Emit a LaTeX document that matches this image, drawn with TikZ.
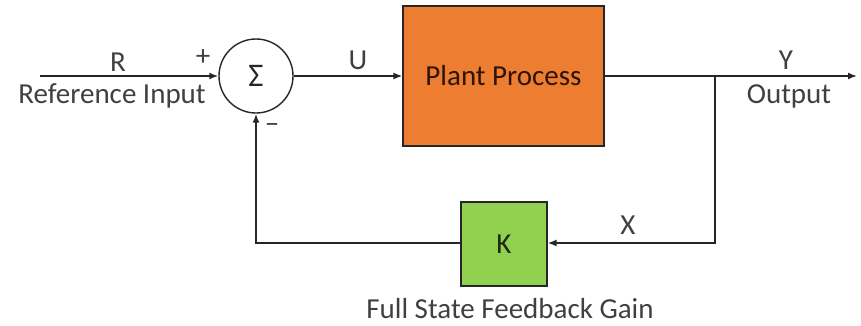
\documentclass[tikz,border=0pt]{standalone}
\usepackage{fontspec}
\setmainfont{Carlito}
\usetikzlibrary{arrows.meta,positioning,calc}
\definecolor{plantorange}{RGB}{237,125,49}
\definecolor{gaingreen}{RGB}{146,208,80}
\definecolor{wiregray}{RGB}{38,38,38}
\definecolor{labgray}{RGB}{64,64,64}
\tikzset{
  sig/.style={-{Latex[length=9pt,width=7pt]}, wiregray, line width=1.6pt},
  wire/.style={wiregray, line width=1.6pt},
  sumnode/.style={circle, draw=wiregray, line width=1.4pt, fill=white,
                  minimum size=74pt, inner sep=0pt, font=\fontsize{33}{38}\selectfont, text=wiregray},
  blkbox/.style={draw=wiregray, line width=1.2pt, inner sep=0pt,
                 font=\fontsize{29}{34}\selectfont},
  lab/.style={font=\fontsize{29}{34}\selectfont, text=labgray, inner sep=0pt},
}
\begin{document}
\begin{tikzpicture}[x=1pt, y=-1pt]
  \useasboundingbox (0,0) rectangle (861,325);
  % blocks
  \node[sumnode] (sum) at (256,76) {Σ};
  \node[blkbox, fill=plantorange, minimum width=201pt, minimum height=140pt,
        text={rgb,255:red,45;green,20;blue,5}] (plant) at (503.5,76) {Plant Process};
  \node[blkbox, fill=gaingreen, minimum width=86pt, minimum height=84pt,
        text={rgb,255:red,30;green,40;blue,20}] (gain) at (504,244) {K};
  % free ends and corners
  \coordinate (in) at (40,76);
  \coordinate (out) at (857,76);
  \coordinate (br) at (715,76);
  \coordinate (brdown) at (715,243);
  \coordinate (fbk) at (sum.south |- brdown);
  % signals
  \draw[sig] (in) -- (sum.west);
  \draw[sig] (sum.east) -- (plant.west);
  \draw[sig] (plant.east) -- (out);
  \draw[sig] (br) -- (brdown) -- (gain.east |- brdown);
  \draw[sig] (gain.west |- brdown) -- (fbk) -- (sum.south);
  % labels
  \node[lab] (rlab) at (118,62) {R};
  \node[lab] (plus) at (203,58) {+};
  \node[lab] (reflab) at (112,96) {Reference Input};
  \node[lab] (ulab) at (358,60) {U};
  \node[lab] (ylab) at (786,60) {Y};
  \node[lab] (outlab) at (789,96) {Output};
  \node[lab] (xlab) at (628,225) {X};
  \node[lab] (minus) at (272,128) {\textendash};
  \node[lab] (gainlab) at (510,309) {Full State Feedback Gain};
\end{tikzpicture}
\end{document}
